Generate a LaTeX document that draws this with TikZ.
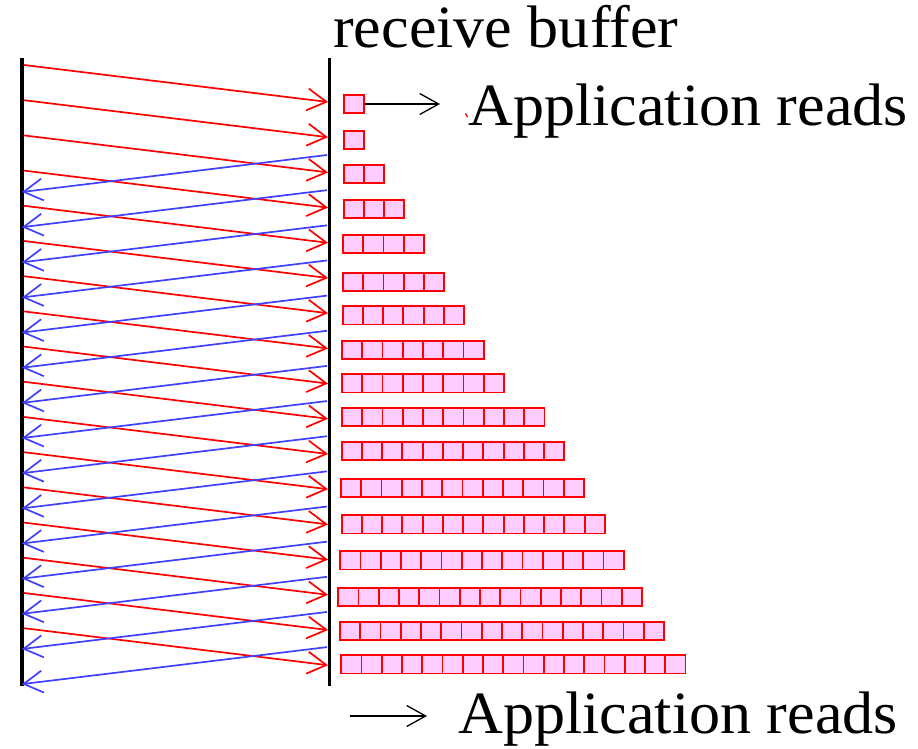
\documentclass[tikz,border=0pt]{standalone}
\usepackage{fontspec}
\setmainfont{Liberation Serif}[FakeStretch=1.035]
\usetikzlibrary{arrows.meta}
\definecolor{myred}{RGB}{255,0,0}
\definecolor{myblue}{RGB}{64,64,255}
\definecolor{mypink}{RGB}{255,204,255}
\begin{document}
\begin{tikzpicture}[x=1pt,y=-1pt,
  wall/.style={line width=3.3pt, black},
  redarrow/.style={line width=1.7pt, myred, -{Straight Barb[length=19pt,width=22pt]}},
  bluearrow/.style={line width=1.7pt, myblue, -{Straight Barb[length=19pt,width=22pt]}},
  blackarrow/.style={line width=1.3pt, black, -{Straight Barb[length=19pt,width=21pt]}},
  cell/.style={fill=mypink, draw=myred, line width=1.8pt},
  label/.style={inner sep=0pt, anchor=base west, font=\fontsize{60}{72}\selectfont}]
\useasboundingbox (0,0) rectangle (918,748);
% walls
\coordinate (LT) at (22,58);
\coordinate (LB) at (22,686);
\coordinate (RT) at (329.5,58);
\coordinate (RB) at (329.5,686);
\draw[wall] (LT) -- (LB);
\draw[wall] (RT) -- (RB);
% data segments (red)
\foreach \i in {0,...,16}{
  \coordinate (rs\i) at (24, 65+35.2*\i);
  \coordinate (re\i) at (328, 102+35.2*\i);
  \draw[redarrow] (rs\i) -- (re\i);
}
% acknowledgements (blue)
\foreach \j in {0,...,14}{
  \coordinate (bs\j) at (327, 155+35.15*\j);
  \coordinate (be\j) at (22, 192+35.15*\j);
  \draw[bluearrow] (bs\j) -- (be\j);
}
% receive buffer rows
\foreach \t/\l/\n in {94/342.7/1, 130/343/1, 164/342.7/2, 198.7/342.7/3,
    233.7/342/4, 272/342/5, 305.3/341.7/6, 339.7/341/7, 373.3/341/8,
    407/341/10, 441/340.7/11, 477.7/340/12, 514.3/340.7/13, 550.3/339.3/14,
    587/337.3/15, 620.7/339/16, 654.3/340.3/17}{
  \foreach \k in {1,...,\n}{
    \draw[cell] (\l+0.9+20.25*\k-20.25, \t+0.9) rectangle ++(20.25,18.2);
  }
}
% labels
\node[label] (title) at (333,47) {receive buffer};
\coordinate (a1s) at (364.5,104);
\coordinate (a1e) at (440,104);
\draw[blackarrow] (a1s) -- (a1e);
\node[label] (app1) at (468,125) {Application reads};
\coordinate (dotA) at (465.5,113.5);
\coordinate (dotB) at (467.5,117);
\draw[myred, line width=1.3pt] (dotA) -- (dotB);
\coordinate (a2s) at (350,716);
\coordinate (a2e) at (427,716);
\draw[blackarrow] (a2s) -- (a2e);
\node[label] (app2) at (458,733) {Application reads};
\end{tikzpicture}
\end{document}
